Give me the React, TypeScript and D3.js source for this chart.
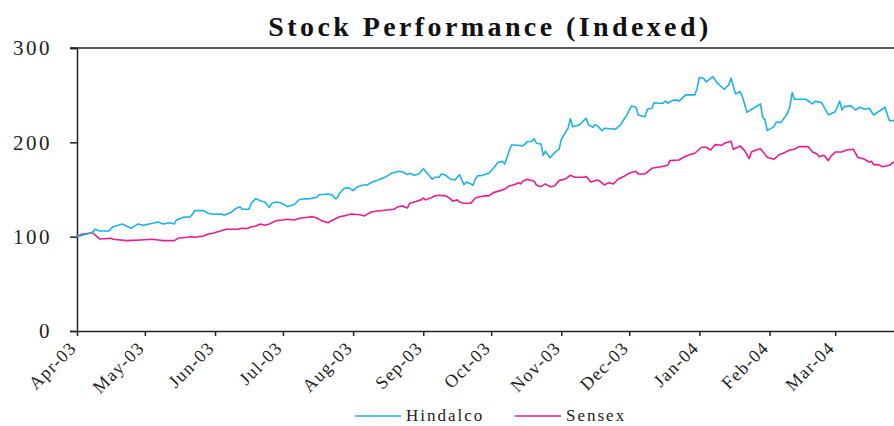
import React, { useEffect, useRef } from "react";
import * as d3 from "d3";

const title = "Stock Performance (Indexed)";
const seriesNames = ["Hindalco", "Sensex"];
const seriesColors = ["#1DB2EC", "#EC1C8C"];
const yTicks = [0, 100, 200, 300];
const xTickDates = ["2003-04-01","2003-05-01","2003-06-01","2003-07-01","2003-08-01","2003-09-01","2003-10-01","2003-11-01","2003-12-01","2004-01-01","2004-02-01","2004-03-01"];

const hindalcoDates = [
"2003-04-01","2003-04-06","2003-04-08","2003-04-09","2003-04-11","2003-04-15","2003-04-17","2003-04-21","2003-04-23","2003-04-25","2003-04-28","2003-04-30",
"2003-05-04","2003-05-07","2003-05-09","2003-05-12","2003-05-14","2003-05-15","2003-05-18","2003-05-21","2003-05-22","2003-05-23","2003-05-27","2003-05-29","2003-05-31",
"2003-06-04","2003-06-05","2003-06-08","2003-06-10","2003-06-12","2003-06-13","2003-06-16","2003-06-17","2003-06-19","2003-06-21","2003-06-23","2003-06-25","2003-06-26","2003-06-28","2003-06-30",
"2003-07-03","2003-07-06","2003-07-08","2003-07-09","2003-07-13","2003-07-16","2003-07-17","2003-07-21","2003-07-23","2003-07-24","2003-07-25","2003-07-26","2003-07-28","2003-07-30",
"2003-08-01","2003-08-03","2003-08-06","2003-08-07","2003-08-09","2003-08-12","2003-08-15","2003-08-18","2003-08-20","2003-08-21","2003-08-23","2003-08-25","2003-08-26","2003-08-28","2003-08-30",
"2003-09-01","2003-09-03","2003-09-05","2003-09-06","2003-09-08","2003-09-09","2003-09-11","2003-09-13","2003-09-15","2003-09-17","2003-09-19","2003-09-20","2003-09-22","2003-09-23","2003-09-24","2003-09-25","2003-09-27","2003-09-30",
"2003-10-02","2003-10-04","2003-10-06","2003-10-07","2003-10-09","2003-10-10","2003-10-12","2003-10-15","2003-10-16","2003-10-17","2003-10-19","2003-10-20","2003-10-21","2003-10-23","2003-10-24","2003-10-25","2003-10-27","2003-10-29","2003-10-31",
"2003-11-01","2003-11-04","2003-11-05","2003-11-06","2003-11-09","2003-11-12","2003-11-13","2003-11-15","2003-11-16","2003-11-17","2003-11-19","2003-11-20","2003-11-23","2003-11-25","2003-11-27","2003-11-29","2003-11-30",
"2003-12-02","2003-12-04","2003-12-05","2003-12-08","2003-12-09","2003-12-11","2003-12-12","2003-12-14","2003-12-16","2003-12-17","2003-12-18","2003-12-20","2003-12-22","2003-12-23","2003-12-26","2003-12-30","2003-12-31",
"2004-01-01","2004-01-03","2004-01-04","2004-01-07","2004-01-09","2004-01-12","2004-01-14","2004-01-15","2004-01-17","2004-01-19","2004-01-20","2004-01-22","2004-01-26","2004-01-28","2004-01-29","2004-01-30","2004-01-31",
"2004-02-03","2004-02-04","2004-02-06","2004-02-09","2004-02-10","2004-02-11","2004-02-12","2004-02-17","2004-02-20","2004-02-21","2004-02-24","2004-02-27",
"2004-03-01","2004-03-03","2004-03-04","2004-03-05","2004-03-08","2004-03-10","2004-03-12","2004-03-14","2004-03-16","2004-03-18","2004-03-23","2004-03-25","2004-03-27"
];
const hindalcoValues = [
100,103,105,108,106,106,110.6,113.5,111,109,113.5,112,
114,115.6,113.5,114.8,113.5,117.7,120.6,121,123.7,127.6,127.6,124.8,123.7,
124,122.7,125.5,129.7,131.8,129,129,135.4,140.3,138,136.8,131,135.4,136.8,136,
131.8,134,138.9,139.7,140.3,141.8,144.5,145.3,143.9,140.3,141,146,150.9,152,
148.8,153,155,154.5,157.3,160,162.9,167.2,168.6,169.3,168.6,165.7,167.2,165,166.5,
172,166.5,160.9,163,163,166.5,165,161,160,165.7,155,158,155.9,154.5,160.9,164.4,165,167.2,
172.5,178.5,180,177,191.2,197.2,197.2,196.2,198.3,200.7,201.2,204,199,198.3,186.3,190.6,183.5,189,192.7,
203.3,215,225,216.6,218.5,225.5,218.5,216,218.8,217.4,212.3,215,214.4,213.9,218.1,225.5,229,
238.6,237.2,229,227.2,235,236.2,242,241.5,241.5,243.6,241.5,244.2,245,243.6,250.3,250.3,257.4,
269,267.6,264,269.7,262.7,256.3,260.9,268,251.3,253.8,248.5,231.9,237.9,240.7,226.6,223.8,212.4,
216.6,221.6,220.9,230.9,237.9,252.7,245.7,245.7,240.7,243.6,242.1,229,
232.5,243.6,234.3,237.9,238.6,234.3,237.2,235,236.2,229,237.2,223,223
];

const sensexDates = [
"2003-04-01","2003-04-03","2003-04-08","2003-04-09","2003-04-11","2003-04-16","2003-04-17","2003-04-23","2003-04-29",
"2003-05-04","2003-05-07","2003-05-09","2003-05-14","2003-05-16","2003-05-20","2003-05-21","2003-05-23","2003-05-27","2003-05-29","2003-05-31",
"2003-06-06","2003-06-11","2003-06-13","2003-06-15","2003-06-17","2003-06-19","2003-06-21","2003-06-23","2003-06-25","2003-06-28",
"2003-07-01","2003-07-03","2003-07-06","2003-07-09","2003-07-12","2003-07-14","2003-07-16","2003-07-18","2003-07-21","2003-07-23","2003-07-26","2003-07-28","2003-07-31",
"2003-08-04","2003-08-06","2003-08-09","2003-08-11","2003-08-16","2003-08-19","2003-08-21","2003-08-23","2003-08-24","2003-08-25","2003-08-26","2003-08-28","2003-08-31",
"2003-09-01","2003-09-02","2003-09-05","2003-09-06","2003-09-08","2003-09-11","2003-09-13","2003-09-14","2003-09-16","2003-09-17","2003-09-19","2003-09-22","2003-09-24","2003-09-26","2003-09-28","2003-09-30",
"2003-10-02","2003-10-05","2003-10-07","2003-10-09","2003-10-12","2003-10-13","2003-10-14","2003-10-15","2003-10-17","2003-10-20","2003-10-21","2003-10-23","2003-10-25","2003-10-27","2003-10-29","2003-10-31",
"2003-11-03","2003-11-05","2003-11-07","2003-11-11","2003-11-12","2003-11-14","2003-11-17","2003-11-18","2003-11-20","2003-11-22","2003-11-24","2003-11-26","2003-11-29",
"2003-12-01","2003-12-04","2003-12-05","2003-12-08","2003-12-11","2003-12-15","2003-12-18","2003-12-19","2003-12-23","2003-12-25","2003-12-27","2003-12-30",
"2004-01-02","2004-01-04","2004-01-06","2004-01-08","2004-01-11","2004-01-12","2004-01-15","2004-01-16","2004-01-18","2004-01-19","2004-01-21","2004-01-23","2004-01-24","2004-01-26","2004-01-28","2004-01-31",
"2004-02-03","2004-02-05","2004-02-07","2004-02-10","2004-02-12","2004-02-14","2004-02-18","2004-02-20","2004-02-22","2004-02-23","2004-02-25","2004-02-27","2004-02-28",
"2004-03-01","2004-03-04","2004-03-06","2004-03-09","2004-03-11","2004-03-14","2004-03-16","2004-03-17","2004-03-18","2004-03-20","2004-03-22","2004-03-25","2004-03-27"
];
const sensexValues = [
100,102.5,104.2,101.8,97.6,98.3,97.2,95.8,96.5,
97.2,96.5,95.8,95.8,98.6,99.4,100,99.4,100.7,102.9,103.6,
107.8,107.8,108.9,108.5,110.6,111.3,113.5,112,113.5,117,
117.7,118.4,117.7,119.8,120.6,121.2,119.8,117,114.8,117.7,121.2,122,124,
123.3,122,126.2,127,128.3,129,131.8,132.6,131.2,130.4,135.4,136.8,139,
141,139,141.8,143.2,143.9,143.2,140.3,137.6,139,136.8,135.4,135.4,141,142.4,143.2,143.2,
146.7,148.8,150.3,153.8,155.9,157.3,155.9,158.8,160.9,158.8,154.8,153,155.9,153,153.8,159.4,
161.5,165.1,163,163,163.7,158,160.1,158.8,154.8,157.3,155.9,160.9,164.4,
167.2,169.4,166.5,166.5,172.5,174.2,175.7,180.6,181.3,184.2,186.3,188.4,
194.8,194.8,191.9,197.6,196.9,199,201.2,192.7,194.8,196.2,191.2,182.7,189.8,191.9,193.3,184.2,
182.1,186.6,188.4,191.9,192.7,195.5,195.5,189.8,187.7,184.8,186.3,180.6,184.8,
189.8,189.8,191.9,192.7,184.2,182.1,179.2,180,176.4,176.4,174.2,175.7,179.2
];

const W = 894, H = 426;
const M = { left: 77, right: 894, top: 48, bottom: 331 };
const parse = d3.timeParse("%Y-%m-%d");
const FONT = "'Liberation Serif', 'DejaVu Serif', serif";

export default function App() {
  const ref = useRef<SVGSVGElement>(null);
  useEffect(() => {
    const svg = d3.select(ref.current);
    svg.selectAll("*").remove();
    const x = d3.scaleTime()
      .domain([parse("2003-04-01")!, parse("2004-03-27")!])
      .range([M.left, M.right]);
    const y = d3.scaleLinear().domain([0, 300]).range([M.bottom, M.top]);

    svg.append("text")
      .attr("x", 490).attr("y", 36)
      .attr("text-anchor", "middle")
      .attr("font-family", FONT)
      .attr("font-weight", "bold")
      .attr("font-size", 28)
      .attr("letter-spacing", 3.4)
      .attr("fill", "#111")
      .text(title);

    svg.append("line")
      .attr("x1", M.left - 7).attr("x2", M.right)
      .attr("y1", y(300)).attr("y2", y(300))
      .attr("stroke", "#222").attr("stroke-width", 1.5);

    const yAxis = svg.append("g")
      .attr("transform", `translate(${M.left},0)`)
      .call(d3.axisLeft(y).tickValues(yTicks).tickSize(7).tickPadding(18).tickFormat(d3.format("d")));
    yAxis.select(".domain").attr("stroke", "#222").attr("stroke-width", 1.5);
    yAxis.selectAll(".tick line").attr("stroke", "#222").attr("stroke-width", 1.5);
    yAxis.selectAll("text")
      .attr("font-family", FONT).attr("font-size", 21).attr("letter-spacing", 2.5).attr("fill", "#222");

    const xAxis = svg.append("g")
      .attr("transform", `translate(0,${M.bottom})`)
      .call(d3.axisBottom(x).tickValues(xTickDates.map((s) => parse(s)!)).tickSize(5).tickSizeOuter(0).tickFormat(d3.timeFormat("%b-%y") as any));
    xAxis.select(".domain").attr("stroke", "#222").attr("stroke-width", 1.5);
    xAxis.selectAll(".tick line").attr("stroke", "#222").attr("stroke-width", 1.5);
    xAxis.selectAll("text")
      .attr("font-family", FONT).attr("font-size", 18).attr("letter-spacing", 1.2).attr("fill", "#222")
      .attr("text-anchor", "end")
      .attr("y", 0).attr("dy", 0)
      .attr("transform", "translate(0,18) rotate(-45)");

    const line = d3.line<[Date, number]>().x((d) => x(d[0])).y((d) => y(d[1]));
    const series = [
      hindalcoDates.map((s, i) => [parse(s)!, hindalcoValues[i]] as [Date, number]),
      sensexDates.map((s, i) => [parse(s)!, sensexValues[i]] as [Date, number]),
    ];
    [1, 0].forEach((k) => {
      svg.append("path")
        .datum(series[k])
        .attr("fill", "none")
        .attr("stroke", seriesColors[k])
        .attr("stroke-width", 1.6)
        .attr("stroke-linejoin", "round")
        .attr("d", line);
    });

    const legendX = [355, 515];
    seriesNames.forEach((name, i) => {
      svg.append("line")
        .attr("x1", legendX[i]).attr("x2", legendX[i] + 46)
        .attr("y1", 416).attr("y2", 416)
        .attr("stroke", seriesColors[i]).attr("stroke-width", 1.5);
      svg.append("text")
        .attr("x", legendX[i] + 51).attr("y", 421)
        .attr("font-family", FONT).attr("font-size", 17).attr("letter-spacing", 2).attr("fill", "#222")
        .text(name);
    });
  }, []);
  return (
    <svg ref={ref} width={W} height={H} style={{ position: "absolute", left: 0, top: 0, background: "#fff" }} />
  );
}
